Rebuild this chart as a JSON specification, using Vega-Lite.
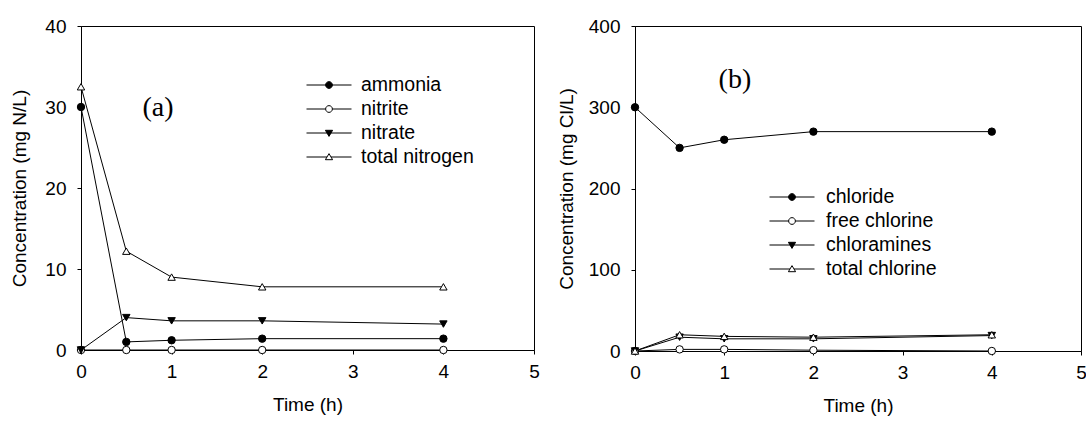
{
  "$schema": "https://vega.github.io/schema/vega-lite/v6.json",
  "padding": {"left": 10, "top": 16, "right": 0, "bottom": 4},
  "background": "white",
  "spacing": 16,
  "config": {
    "font": "Liberation Sans",
    "view": {"stroke": "black", "strokeWidth": 1},
    "axis": {
      "grid": false,
      "domainColor": "black",
      "domainWidth": 1,
      "tickColor": "black",
      "tickSize": 4,
      "tickWidth": 1,
      "labelFont": "Liberation Sans",
      "titleFont": "Liberation Sans",
      "labelFontSize": 19,
      "titleFontSize": 19,
      "titleFontWeight": "normal",
      "labelColor": "black",
      "titleColor": "black"
    },
    "axisX": {"labelPadding": 8, "titlePadding": 14, "labelFlush": false},
    "axisY": {"labelPadding": 11, "titlePadding": 15},
    "legend": {
      "orient": "none",
      "title": null,
      "symbolStrokeWidth": 1,
      "symbolStrokeColor": "black",
      "symbolSize": 2025,
      "symbolOpacity": 1,
      "labelFont": "Liberation Sans",
      "labelFontSize": 19.5,
      "labelColor": "black",
      "labelOffset": 11,
      "clipHeight": 24,
      "rowPadding": 0
    }
  },
  "hconcat": [
    {
      "width": 453,
      "height": 324,
      "data": {
        "values": [
          {"t": 0, "c": 30, "s": "ammonia"},
          {"t": 0.5, "c": 1.0, "s": "ammonia"},
          {"t": 1, "c": 1.2, "s": "ammonia"},
          {"t": 2, "c": 1.4, "s": "ammonia"},
          {"t": 4, "c": 1.4, "s": "ammonia"},
          {"t": 0, "c": 0, "s": "nitrite"},
          {"t": 0.5, "c": 0, "s": "nitrite"},
          {"t": 1, "c": 0, "s": "nitrite"},
          {"t": 2, "c": 0, "s": "nitrite"},
          {"t": 4, "c": 0, "s": "nitrite"},
          {"t": 0, "c": 0, "s": "nitrate"},
          {"t": 0.5, "c": 4.0, "s": "nitrate"},
          {"t": 1, "c": 3.6, "s": "nitrate"},
          {"t": 2, "c": 3.6, "s": "nitrate"},
          {"t": 4, "c": 3.2, "s": "nitrate"},
          {"t": 0, "c": 32.5, "s": "total nitrogen"},
          {"t": 0.5, "c": 12.2, "s": "total nitrogen"},
          {"t": 1, "c": 9.0, "s": "total nitrogen"},
          {"t": 2, "c": 7.8, "s": "total nitrogen"},
          {"t": 4, "c": 7.8, "s": "total nitrogen"}
        ]
      },
      "encoding": {
        "x": {"field": "t", "type": "quantitative", "title": "Time (h)",
              "scale": {"domain": [0, 5], "nice": false},
              "axis": {"values": [0, 1, 2, 3, 4, 5]}},
        "y": {"field": "c", "type": "quantitative", "title": "Concentration (mg N/L)",
              "scale": {"domain": [0, 40], "nice": false},
              "axis": {"values": [0, 10, 20, 30, 40]}}
      },
      "layer": [
        {
          "mark": {"type": "line", "color": "black", "strokeWidth": 1},
          "encoding": {"detail": {"field": "s"}}
        },
        {
          "mark": {"type": "point", "stroke": "black", "strokeWidth": 1, "size": 55, "opacity": 1},
          "encoding": {
            "shape": {"field": "s", "type": "nominal",
                      "scale": {"domain": ["ammonia", "nitrite", "nitrate", "total nitrogen"],
                                "range": ["circle", "circle", "triangle-down", "triangle-up"]},
                      "legend": null},
            "fill": {"field": "s", "type": "nominal",
                     "scale": {"domain": ["ammonia", "nitrite", "nitrate", "total nitrogen"],
                               "range": ["black", "white", "black", "white"]},
                     "legend": null}
          }
        },
        {
          "transform": [{"filter": "false"}],
          "mark": {"type": "point", "stroke": "black", "strokeWidth": 1, "opacity": 1},
          "encoding": {
            "shape": {"field": "s", "type": "nominal",
                      "scale": {"domain": ["ammonia", "nitrite", "nitrate", "total nitrogen"],
                                "range": [
                                  "M-1,0H1M-0.15,0A0.15,0.15,0,1,1,0.15,0A0.15,0.15,0,1,1,-0.15,0Z",
                                  "M-1,0H-0.15M0.15,0H1M-0.15,0A0.15,0.15,0,1,1,0.15,0A0.15,0.15,0,1,1,-0.15,0Z",
                                  "M-1,0H1M-0.16,-0.12L0.16,-0.12L0,0.15Z",
                                  "M-1,0H-0.09M0.09,0H1M-0.16,0.12L0.16,0.12L0,-0.15Z"
                                ]},
                      "legend": {"legendX": 225, "legendY": 47, "labelOffset": 9,
                                 "encode": {"symbols": {"update": {"stroke": {"value": "black"}, "strokeWidth": {"value": 1}, "opacity": {"value": 1}}}}}},
            "fill": {"field": "s", "type": "nominal",
                     "scale": {"domain": ["ammonia", "nitrite", "nitrate", "total nitrogen"],
                               "range": ["black", "white", "black", "white"]},
                     "legend": {"legendX": 225, "legendY": 47, "labelOffset": 9,
                                "encode": {"symbols": {"update": {"stroke": {"value": "black"}, "strokeWidth": {"value": 1}, "opacity": {"value": 1}}}}}}
          }
        },
        {
          "data": {"values": [{"t": 0.85, "c": 29.9, "label": "(a)"}]},
          "mark": {"type": "text", "font": "Liberation Serif", "fontSize": 28, "color": "black",
                   "align": "center", "baseline": "middle"},
          "encoding": {"text": {"field": "label"}}
        }
      ],
      "resolve": {"scale": {"shape": "independent", "fill": "independent"},
                  "legend": {"shape": "independent", "fill": "independent"}}
    },
    {
      "width": 446,
      "height": 325,
      "data": {
        "values": [
          {"t": 0, "c": 300, "s": "chloride"},
          {"t": 0.5, "c": 250, "s": "chloride"},
          {"t": 1, "c": 260, "s": "chloride"},
          {"t": 2, "c": 270, "s": "chloride"},
          {"t": 4, "c": 270, "s": "chloride"},
          {"t": 0, "c": 0, "s": "free chlorine"},
          {"t": 0.5, "c": 2, "s": "free chlorine"},
          {"t": 1, "c": 2, "s": "free chlorine"},
          {"t": 2, "c": 1, "s": "free chlorine"},
          {"t": 4, "c": 0, "s": "free chlorine"},
          {"t": 0, "c": 0, "s": "chloramines"},
          {"t": 0.5, "c": 17, "s": "chloramines"},
          {"t": 1, "c": 15, "s": "chloramines"},
          {"t": 2, "c": 15, "s": "chloramines"},
          {"t": 4, "c": 19, "s": "chloramines"},
          {"t": 0, "c": 0, "s": "total chlorine"},
          {"t": 0.5, "c": 20, "s": "total chlorine"},
          {"t": 1, "c": 18, "s": "total chlorine"},
          {"t": 2, "c": 17, "s": "total chlorine"},
          {"t": 4, "c": 20, "s": "total chlorine"}
        ]
      },
      "encoding": {
        "x": {"field": "t", "type": "quantitative", "title": "Time (h)",
              "scale": {"domain": [0, 5], "nice": false},
              "axis": {"values": [0, 1, 2, 3, 4, 5]}},
        "y": {"field": "c", "type": "quantitative", "title": "Concentration (mg Cl/L)",
              "scale": {"domain": [0, 400], "nice": false},
              "axis": {"values": [0, 100, 200, 300, 400], "titlePadding": 12}}
      },
      "layer": [
        {
          "mark": {"type": "line", "color": "black", "strokeWidth": 1},
          "encoding": {"detail": {"field": "s"}}
        },
        {
          "mark": {"type": "point", "stroke": "black", "strokeWidth": 1, "size": 55, "opacity": 1},
          "encoding": {
            "shape": {"field": "s", "type": "nominal",
                      "scale": {"domain": ["chloride", "free chlorine", "chloramines", "total chlorine"],
                                "range": ["circle", "circle", "triangle-down", "triangle-up"]},
                      "legend": null},
            "fill": {"field": "s", "type": "nominal",
                     "scale": {"domain": ["chloride", "free chlorine", "chloramines", "total chlorine"],
                               "range": ["black", "white", "black", "white"]},
                     "legend": null}
          }
        },
        {
          "transform": [{"filter": "false"}],
          "mark": {"type": "point", "stroke": "black", "strokeWidth": 1, "opacity": 1},
          "encoding": {
            "shape": {"field": "s", "type": "nominal",
                      "scale": {"domain": ["chloride", "free chlorine", "chloramines", "total chlorine"],
                                "range": [
                                  "M-1,0H1M-0.15,0A0.15,0.15,0,1,1,0.15,0A0.15,0.15,0,1,1,-0.15,0Z",
                                  "M-1,0H-0.15M0.15,0H1M-0.15,0A0.15,0.15,0,1,1,0.15,0A0.15,0.15,0,1,1,-0.15,0Z",
                                  "M-1,0H1M-0.16,-0.12L0.16,-0.12L0,0.15Z",
                                  "M-1,0H-0.09M0.09,0H1M-0.16,0.12L0.16,0.12L0,-0.15Z"
                                ]},
                      "legend": {"legendX": 134, "legendY": 159,
                                 "encode": {"symbols": {"update": {"stroke": {"value": "black"}, "strokeWidth": {"value": 1}, "opacity": {"value": 1}}}}}},
            "fill": {"field": "s", "type": "nominal",
                     "scale": {"domain": ["chloride", "free chlorine", "chloramines", "total chlorine"],
                               "range": ["black", "white", "black", "white"]},
                     "legend": {"legendX": 134, "legendY": 159,
                                "encode": {"symbols": {"update": {"stroke": {"value": "black"}, "strokeWidth": {"value": 1}, "opacity": {"value": 1}}}}}}
          }
        },
        {
          "data": {"values": [{"t": 1.12, "c": 333, "label": "(b)"}]},
          "mark": {"type": "text", "font": "Liberation Serif", "fontSize": 28, "color": "black",
                   "align": "center", "baseline": "middle"},
          "encoding": {"text": {"field": "label"}}
        }
      ],
      "resolve": {"scale": {"shape": "independent", "fill": "independent"},
                  "legend": {"shape": "independent", "fill": "independent"}}
    }
  ]
}
